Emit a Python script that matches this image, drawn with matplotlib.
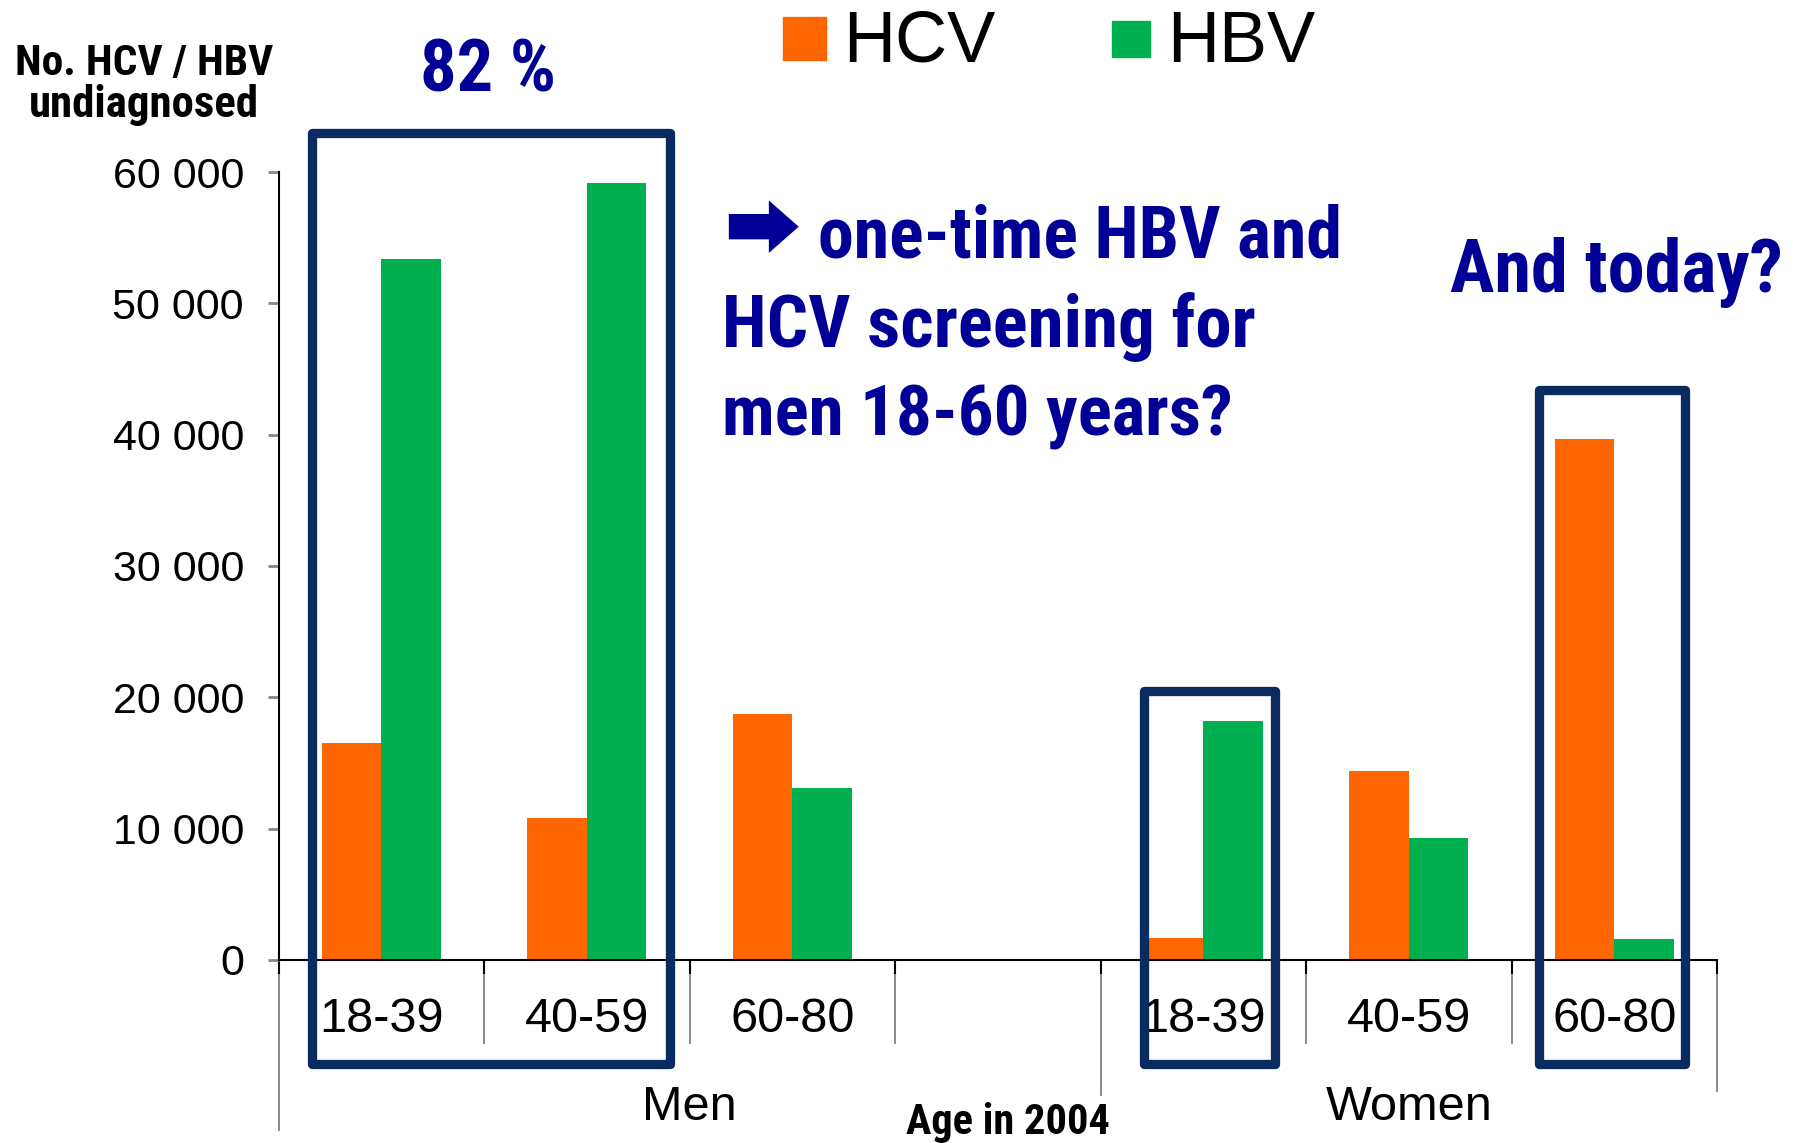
import matplotlib
matplotlib.use("Agg")
import matplotlib.pyplot as plt
from matplotlib import font_manager
from matplotlib.patches import Rectangle
from matplotlib.ticker import FuncFormatter

# data (number undiagnosed, age in 2004)
age_groups = ['18-39', '40-59', '60-80', '', '18-39', '40-59', '60-80']
hcv = [16500, 10800, 18700, 0, 1650, 14400, 39700]
hbv = [53400, 59200, 13100, 0, 18150, 9250, 1550]
yticks = [0, 10000, 20000, 30000, 40000, 50000, 60000]

W, H = 1798, 1143
orange = '#FF6600'
green = '#00B050'
navy = '#000096'
boxcol = '#0A2B60'
regular = ['Liberation Sans', 'DejaVu Sans']
plt.rcParams['font.family'] = regular


def narrow_bold():
    # look for an installed condensed bold sans, like Arial Narrow Bold
    prefs = ['liberation sans narrow', 'arial narrow', 'roboto condensed',
             'noto sans condensed', 'open sans condensed', 'opensans-condbold',
             'dejavu sans condensed', 'dejavusanscondensed']
    best, best_rank = None, 99
    for f in font_manager.fontManager.ttflist:
        key = (f.name + ' ' + f.fname.split('/')[-1]).lower()
        if 'italic' in key or 'oblique' in key or 'extra' in key or 'semi' in key:
            continue
        if not ('bold' in key or f.weight in ('bold', 700)):
            continue
        if 'extrabold' in key or 'semibold' in key:
            continue
        for r, p in enumerate(prefs):
            if p in key and r < best_rank:
                best, best_rank = f.fname, r
    if best:
        return dict(fontproperties=font_manager.FontProperties(fname=best))
    return dict(family='Liberation Sans', fontweight='bold')


nb = narrow_bold()

fig = plt.figure(figsize=(W / 100, H / 100), dpi=100)
ax = fig.add_axes([278.6 / W, 1 - 959.8 / H, (1717 - 278.6) / W, (959.8 - 172) / H])

bw = 0.29
xs = [i + 0.5 for i in range(len(age_groups))]
ax.bar([x - bw / 2 for x in xs], hcv, width=bw, color=orange, zorder=2)
ax.bar([x + bw / 2 for x in xs], hbv, width=bw, color=green, zorder=2)

ax.set_xlim(0, 7)
ax.set_ylim(0, 60000)
for s in ['top', 'right']:
    ax.spines[s].set_visible(False)
ax.spines['left'].set_linewidth(1.5)
ax.spines['bottom'].set_linewidth(1.5)

ax.set_yticks(yticks)
ax.yaxis.set_major_formatter(FuncFormatter(lambda v, p: f'{int(v):,}'.replace(',', ' ')))
ax.tick_params(axis='y', length=8, width=2, color='#888888', pad=17, labelsize=31)

ax.set_xticks(range(8))
ax.set_xticklabels([''] * 8)
ax.tick_params(axis='x', which='major', length=10, width=1.5, color='black')
ax.set_xticks(xs, minor=True)
ax.set_xticklabels(age_groups, minor=True)
ax.tick_params(axis='x', which='minor', length=0, pad=27, labelsize=35)

# multi-level category separators below the axis
trans = ax.get_xaxis_transform()
axh = 959.8 - 172
drops = {0: 170, 1: 83, 2: 83, 3: 83, 4: 135, 5: 83, 6: 83, 7: 131}
for xb, d in drops.items():
    ax.plot([xb, xb], [0, -d / axh], transform=trans, color='#808080', lw=1.3,
            clip_on=False, zorder=1)

# highlight boxes
boxes = [(0.162, 1.905, -7950, 62970), (4.212, 4.849, -7950, 20440), (6.134, 6.844, -7950, 43400)]
for x0, x1, y0, y1 in boxes:
    ax.add_patch(Rectangle((x0, y0), x1 - x0, y1 - y0, fill=False, ec=boxcol, lw=6.7,
                           joinstyle='round', clip_on=False, zorder=3))


def ftext(px, py, s, **kw):
    return fig.text(px / W, 1 - py / H, s, **kw)


renderer = fig.canvas.get_renderer()


def fit(t, width_px):
    # scale the font so the text spans the same width as in the original
    w = t.get_window_extent(renderer).width
    t.set_fontsize(t.get_fontsize() * width_px / w)


# group labels and axis titles
ftext(689, 1120, 'Men', ha='center', va='baseline', fontsize=35)
ftext(1409, 1120, 'Women', ha='center', va='baseline', fontsize=35)
fit(ftext(1008, 1134, 'Age in 2004', ha='center', va='baseline', fontsize=30,
          color='black', **nb), 204)
fit(ftext(144, 75, 'No. HCV / HBV', ha='center', va='baseline', fontsize=30, **nb), 258)
fit(ftext(144, 117, 'undiagnosed', ha='center', va='baseline', fontsize=30, **nb), 230)

# legend
fig.patches.append(Rectangle((783 / W, 1 - 60 / H), 43 / W, 43 / H, color=orange,
                             transform=fig.transFigure, figure=fig))
fig.patches.append(Rectangle((1112 / W, 1 - 57 / H), 38 / W, 36 / H, color=green,
                             transform=fig.transFigure, figure=fig))
ftext(843, 62, 'HCV', ha='left', va='baseline', fontsize=52)
ftext(1167, 62, 'HBV', ha='left', va='baseline', fontsize=52)

# annotations
fit(ftext(488, 92, '82 %', ha='center', va='baseline', fontsize=52, color=navy, **nb), 136)
ftext(724, 256, '\u2b95', ha='left', va='baseline', fontsize=55, fontweight='bold',
      color=navy, family=['DejaVu Sans', 'Noto Sans', 'Noto Sans CJK SC'])
fit(ftext(818, 258, 'one-time HBV and', ha='left', va='baseline', fontsize=52,
          color=navy, **nb), 524)
fit(ftext(722, 347, 'HCV screening for', ha='left', va='baseline', fontsize=52,
          color=navy, **nb), 534)
fit(ftext(722, 436, 'men 18-60 years?', ha='left', va='baseline', fontsize=52,
          color=navy, **nb), 511)
fit(ftext(1450, 292, 'And today?', ha='left', va='baseline', fontsize=52,
          color=navy, **nb), 333)

fig.savefig('out.png', dpi=100)
